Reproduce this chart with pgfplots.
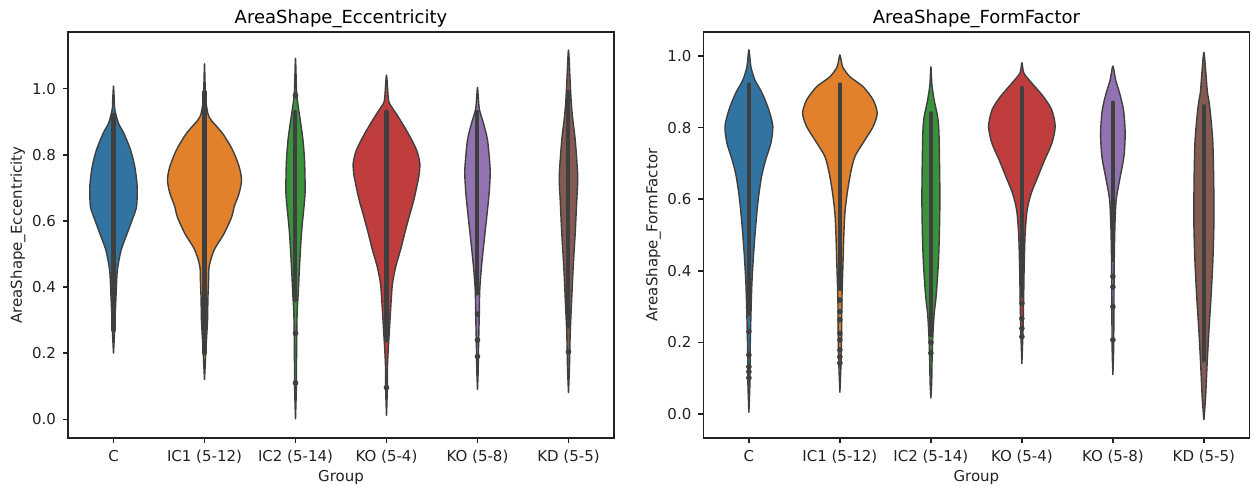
\documentclass[border=0pt]{standalone}
\usepackage{fontspec}
\setmainfont{DejaVu Sans}
\usepackage{pgfplots}
\usepackage{pgfplotstable}
\pgfplotsset{compat=1.18}
\definecolor{cblue}{HTML}{3174A1}
\definecolor{corange}{HTML}{E1812C}
\definecolor{cgreen}{HTML}{3A923A}
\definecolor{cred}{HTML}{C03D3E}
\definecolor{cpurple}{HTML}{9372B2}
\definecolor{cbrown}{HTML}{845B53}
\definecolor{edge}{HTML}{3F3F3F}
\definecolor{spine}{HTML}{222222}

% #1 position, #2 table (closed outline: y, signed half width), #3 colour
\newcommand{\violin}[3]{%
  \addplot[fill=#3, draw=edge, line width=0.7pt, line join=round, smooth, tension=0.45] table[x expr=#1+\thisrow{w}, y=y]{#2};
}

\pgfplotsset{vstyle/.style={
  scale only axis, width=273pt, height=203pt,
  xmin=-0.5, xmax=5.5,
  xtick={0,1,2,3,4,5},
  xticklabels={C, IC1 (5-12), IC2 (5-14), KO (5-4), KO (5-8), KD (5-5)},
  ytick={0,0.2,0.4,0.6,0.8,1.0},
  tick align=outside, major tick length=2.5pt, tick pos=left,
  axis line style={line width=0.75pt, color=spine},
  tick style={line width=0.75pt, color=spine},
  yticklabel style={/pgf/number format/.cd, fixed, fixed zerofill, precision=1},
  /pgf/number format/assume math mode=true,
  ticklabel style={font=\fontsize{7.5}{9}\selectfont, text=spine},
  label style={font=\fontsize{7.5}{9}\selectfont, text=spine},
  title style={font=\fontsize{9}{11}\selectfont, text=black, at={(0.5,1)}, anchor=base, yshift=-2pt},
  xlabel=Group,
  xlabel style={at={(axis description cs:0.5,0)}, anchor=base, yshift=-21.8pt},
  ylabel style={at={(axis description cs:-0.0916,0.5)}, anchor=center},
}}

\begin{document}
% ---------- Eccentricity outlines ----------
\pgfplotstableread{
y w
0.199 0
0.26 0.011
0.31 0.018
0.361 0.026
0.431 0.037
0.462 0.048
0.512 0.084
0.562 0.150
0.603 0.205
0.643 0.253
0.704 0.26
0.764 0.234
0.815 0.187
0.865 0.114
0.895 0.055
0.936 0.015
0.97 0.008
1.008 0
0.97 -0.008
0.936 -0.015
0.895 -0.055
0.865 -0.114
0.815 -0.187
0.764 -0.234
0.704 -0.26
0.643 -0.253
0.603 -0.205
0.562 -0.150
0.512 -0.084
0.462 -0.048
0.431 -0.037
0.361 -0.026
0.31 -0.018
0.26 -0.011
0.199 0
}\eC
\pgfplotstableread{
y w
0.119 0
0.159 0.007
0.21 0.015
0.26 0.026
0.31 0.035
0.361 0.037
0.411 0.044
0.462 0.051
0.512 0.106
0.562 0.216
0.613 0.300
0.643 0.326
0.684 0.381
0.724 0.407
0.764 0.381
0.815 0.308
0.865 0.198
0.905 0.073
0.925 0.037
0.97 0.012
1.02 0.006
1.075 0
1.02 -0.006
0.97 -0.012
0.925 -0.037
0.905 -0.073
0.865 -0.198
0.815 -0.308
0.764 -0.381
0.724 -0.407
0.684 -0.381
0.643 -0.326
0.613 -0.300
0.562 -0.216
0.512 -0.106
0.462 -0.051
0.411 -0.044
0.361 -0.037
0.31 -0.035
0.26 -0.026
0.21 -0.015
0.159 -0.007
0.119 0
}\eICa
\pgfplotstableread{
y w
0.0 0
0.1 0.01
0.2 0.012
0.32 0.018
0.38 0.03
0.46 0.044
0.563 0.066
0.663 0.10
0.70 0.106
0.78 0.10
0.845 0.082
0.90 0.055
0.946 0.03
0.99 0.012
1.092 0
0.99 -0.012
0.946 -0.03
0.90 -0.055
0.845 -0.082
0.78 -0.10
0.70 -0.106
0.663 -0.10
0.563 -0.066
0.46 -0.044
0.38 -0.03
0.32 -0.018
0.2 -0.012
0.1 -0.01
0.0 0
}\eICb
\pgfplotstableread{
y w
0.01 0
0.08 0.008
0.16 0.011
0.21 0.019
0.26 0.03
0.361 0.052
0.411 0.066
0.462 0.102
0.512 0.154
0.563 0.201
0.613 0.249
0.663 0.30
0.734 0.355
0.774 0.366
0.815 0.33
0.865 0.238
0.915 0.129
0.946 0.055
0.966 0.022
1.041 0
0.966 -0.022
0.946 -0.055
0.915 -0.129
0.865 -0.238
0.815 -0.33
0.774 -0.366
0.734 -0.355
0.663 -0.30
0.613 -0.249
0.563 -0.201
0.512 -0.154
0.462 -0.102
0.411 -0.066
0.361 -0.052
0.26 -0.03
0.21 -0.019
0.16 -0.011
0.08 -0.008
0.01 0
}\eKOa
\pgfplotstableread{
y w
0.089 0
0.15 0.008
0.21 0.011
0.31 0.019
0.391 0.025
0.462 0.044
0.542 0.074
0.613 0.102
0.684 0.128
0.744 0.14
0.784 0.132
0.845 0.11
0.895 0.066
0.936 0.022
0.97 0.01
1.004 0
0.97 -0.01
0.936 -0.022
0.895 -0.066
0.845 -0.11
0.784 -0.132
0.744 -0.14
0.684 -0.128
0.613 -0.102
0.542 -0.074
0.462 -0.044
0.391 -0.025
0.31 -0.019
0.21 -0.011
0.15 -0.008
0.089 0
}\eKOb
\pgfplotstableread{
y w
0.079 0
0.159 0.011
0.26 0.019
0.361 0.035
0.462 0.052
0.563 0.074
0.663 0.091
0.724 0.102
0.764 0.096
0.845 0.074
0.915 0.044
0.96 0.03
1.016 0.019
1.117 0
1.016 -0.019
0.96 -0.03
0.915 -0.044
0.845 -0.074
0.764 -0.096
0.724 -0.102
0.663 -0.091
0.563 -0.074
0.462 -0.052
0.361 -0.035
0.26 -0.019
0.159 -0.011
0.079 0
}\eKD
% ---------- FormFactor outlines ----------
\pgfplotstableread{
y w
0.004 0
0.086 0.011
0.179 0.014
0.272 0.022
0.365 0.033
0.449 0.052
0.523 0.074
0.598 0.102
0.663 0.139
0.709 0.183
0.756 0.241
0.803 0.263
0.849 0.22
0.896 0.146
0.933 0.066
0.970 0.022
1.017 0
0.970 -0.022
0.933 -0.066
0.896 -0.146
0.849 -0.22
0.803 -0.263
0.756 -0.241
0.709 -0.183
0.663 -0.139
0.598 -0.102
0.523 -0.074
0.449 -0.052
0.365 -0.033
0.272 -0.022
0.179 -0.014
0.086 -0.011
0.004 0
}\fC
\pgfplotstableread{
y w
0.060 0
0.132 0.011
0.225 0.019
0.318 0.022
0.412 0.033
0.505 0.044
0.561 0.055
0.616 0.08
0.672 0.117
0.719 0.165
0.765 0.274
0.803 0.366
0.840 0.41
0.877 0.366
0.914 0.256
0.942 0.11
0.970 0.03
1.003 0
0.970 -0.03
0.942 -0.11
0.914 -0.256
0.877 -0.366
0.840 -0.41
0.803 -0.366
0.765 -0.274
0.719 -0.165
0.672 -0.117
0.616 -0.08
0.561 -0.055
0.505 -0.044
0.412 -0.033
0.318 -0.022
0.225 -0.019
0.132 -0.011
0.060 0
}\fICa
\pgfplotstableread{
y w
0.044 0
0.09 0.009
0.15 0.013
0.22 0.022
0.28 0.036
0.33 0.058
0.42 0.082
0.50 0.093
0.60 0.099
0.70 0.095
0.79 0.088
0.83 0.074
0.877 0.036
0.92 0.011
0.970 0
0.92 -0.011
0.877 -0.036
0.83 -0.074
0.79 -0.088
0.70 -0.095
0.60 -0.099
0.50 -0.093
0.42 -0.082
0.33 -0.058
0.28 -0.036
0.22 -0.022
0.15 -0.013
0.09 -0.009
0.044 0
}\fICb
\pgfplotstableread{
y w
0.140 0
0.225 0.011
0.318 0.019
0.412 0.025
0.505 0.036
0.570 0.058
0.616 0.102
0.663 0.176
0.709 0.249
0.756 0.329
0.803 0.366
0.849 0.329
0.886 0.238
0.924 0.11
0.952 0.022
0.981 0
0.952 -0.022
0.924 -0.11
0.886 -0.238
0.849 -0.329
0.803 -0.366
0.756 -0.329
0.709 -0.249
0.663 -0.176
0.616 -0.102
0.570 -0.058
0.505 -0.036
0.412 -0.025
0.318 -0.019
0.225 -0.011
0.140 0
}\fKOa
\pgfplotstableread{
y w
0.109 0
0.179 0.008
0.272 0.011
0.412 0.014
0.523 0.022
0.598 0.036
0.654 0.074
0.719 0.121
0.784 0.135
0.849 0.117
0.896 0.074
0.933 0.03
0.972 0
0.933 -0.03
0.896 -0.074
0.849 -0.117
0.784 -0.135
0.719 -0.121
0.654 -0.074
0.598 -0.036
0.523 -0.022
0.412 -0.014
0.272 -0.011
0.179 -0.008
0.109 0
}\fKOb
\pgfplotstableread{
y w
-0.017 0
0.048 0.019
0.142 0.036
0.24 0.057
0.328 0.079
0.43 0.099
0.533 0.11
0.65 0.108
0.765 0.097
0.858 0.064
0.90 0.038
0.952 0.022
1.010 0
0.952 -0.022
0.90 -0.038
0.858 -0.064
0.765 -0.097
0.65 -0.108
0.533 -0.11
0.43 -0.099
0.328 -0.079
0.24 -0.057
0.142 -0.036
0.048 -0.019
-0.017 0
}\fKD
\begin{tikzpicture}
\useasboundingbox (0,0) rectangle (627pt,243pt);
\begin{axis}[vstyle, at={(34pt,24pt)}, anchor=south west,
  ymin=-0.0566, ymax=1.1715,
  title={AreaShape\_Eccentricity}, ylabel={AreaShape\_Eccentricity}]
\violin{0}{\eC}{cblue}
\violin{1}{\eICa}{corange}
\violin{2}{\eICb}{cgreen}
\violin{3}{\eKOa}{cred}
\violin{4}{\eKOb}{cpurple}
\violin{5}{\eKD}{cbrown}
% inner points: dense runs and isolated observations
\addplot[edge, line width=2.3pt, line cap=round] coordinates {(0,0.27) (0,0.92)};
\addplot[edge, line width=2.3pt, line cap=round] coordinates {(1,0.20) (1,0.99)};
\addplot[edge, line width=2.0pt, line cap=round] coordinates {(2,0.36) (2,0.93)};
\addplot[edge, line width=2.3pt, line cap=round] coordinates {(3,0.24) (3,0.93)};
\addplot[edge, line width=2.0pt, line cap=round] coordinates {(4,0.38) (4,0.93)};
\addplot[edge, line width=2.0pt, line cap=round] coordinates {(5,0.28) (5,0.99)};
\addplot[only marks, mark=*, mark size=1.2pt, color=edge] coordinates {
 (2,0.98) (2,0.26) (2,0.11) (3,0.096) (4,0.318) (4,0.24) (4,0.19) (5,0.204)};
\end{axis}
\begin{axis}[vstyle, at={(351.7pt,24pt)}, anchor=south west,
  ymin=-0.067, ymax=1.067,
  title={AreaShape\_FormFactor}, ylabel={AreaShape\_FormFactor}]
\violin{0}{\fC}{cblue}
\violin{1}{\fICa}{corange}
\violin{2}{\fICb}{cgreen}
\violin{3}{\fKOa}{cred}
\violin{4}{\fKOb}{cpurple}
\violin{5}{\fKD}{cbrown}
\addplot[edge, line width=2.3pt, line cap=round] coordinates {(0,0.28) (0,0.92)};
\addplot[edge, line width=2.3pt, line cap=round] coordinates {(1,0.35) (1,0.92)};
\addplot[edge, line width=2.0pt, line cap=round] coordinates {(2,0.22) (2,0.84)};
\addplot[edge, line width=2.3pt, line cap=round] coordinates {(3,0.33) (3,0.91)};
\addplot[edge, line width=2.0pt, line cap=round] coordinates {(4,0.43) (4,0.87)};
\addplot[edge, line width=2.0pt, line cap=round] coordinates {(5,0.15) (5,0.86)};
\addplot[only marks, mark=*, mark size=1.2pt, color=edge] coordinates {
 (0,0.23) (0,0.165) (0,0.132) (0,0.118) (0,0.101)
 (1,0.318) (1,0.286) (1,0.263) (1,0.225) (1,0.207) (1,0.179) (1,0.16) (1,0.142)
 (2,0.2) (2,0.17)
 (3,0.309) (3,0.267) (3,0.239) (3,0.216)
 (4,0.384) (4,0.355) (4,0.30) (4,0.207)};
\end{axis}
\end{tikzpicture}
\end{document}
